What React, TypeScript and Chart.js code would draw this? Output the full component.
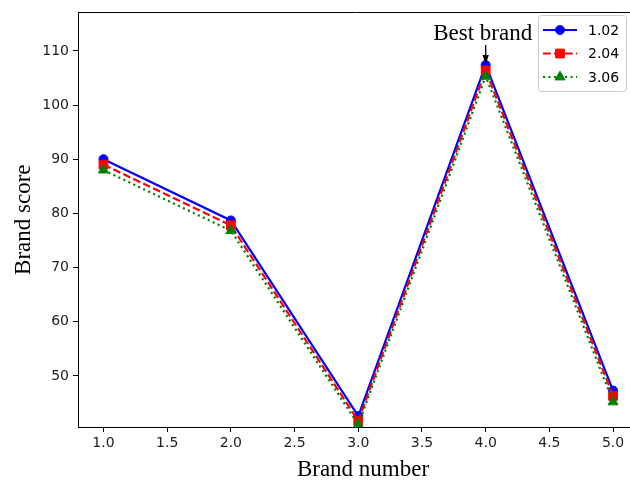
import { useEffect, useRef } from "react";
import { Chart, registerables } from "chart.js";

Chart.register(...registerables);

// ---- data ----
const brandNumbers = [1, 2, 3, 4, 5];
const series102 = [90.0, 78.7, 42.6, 107.4, 47.3];
const series204 = [89.0, 77.8, 41.7, 106.4, 46.3];
const series306 = [88.0, 76.8, 41.0, 105.3, 45.2];
const seriesLabels = ["1.02", "2.04", "3.06"];
const xTickValues = [1.0, 1.5, 2.0, 2.5, 3.0, 3.5, 4.0, 4.5, 5.0];
const yTickValues = [50, 60, 70, 80, 90, 100, 110];
const xAxisTitle = "Brand number";
const yAxisTitle = "Brand score";
const annotationText = "Best brand";
const bestBrandIndex = 3;

const colors = ["#0000ff", "#ff0000", "#008000"];
const dashes = [[], [7.7, 3.3], [2.1, 3.4]];
const pointStyles = ["circle", "rect", "triangle"];
const pointRadii = [4.5, 6.2, 5.8];

const SERIF = "'Liberation Serif', 'DejaVu Serif', serif";
const SANS = "'DejaVu Sans', sans-serif";

function drawMarker(ctx: CanvasRenderingContext2D, style: string, x: number, y: number, r: number, color: string) {
  ctx.save();
  ctx.fillStyle = color;
  ctx.strokeStyle = color;
  ctx.lineWidth = 1;
  ctx.setLineDash([]);
  ctx.beginPath();
  if (style === "circle") {
    ctx.arc(x, y, r, 0, Math.PI * 2);
  } else if (style === "rect") {
    const a = r * Math.SQRT1_2;
    ctx.rect(x - a, y - a, 2 * a, 2 * a);
  } else {
    ctx.moveTo(x, y - r);
    ctx.lineTo(x + r * 0.866, y + r * 0.5);
    ctx.lineTo(x - r * 0.866, y + r * 0.5);
    ctx.closePath();
  }
  ctx.fill();
  ctx.stroke();
  ctx.restore();
}

const decorPlugin = {
  id: "decor",
  afterDraw(chart: any) {
    const ctx: CanvasRenderingContext2D = chart.ctx;
    const area = chart.chartArea;
    const xs = chart.scales.x;
    const ys = chart.scales.y;
    ctx.save();
    // top spine
    ctx.strokeStyle = "#000";
    ctx.lineWidth = 1;
    ctx.beginPath();
    ctx.moveTo(area.left, Math.round(area.top) + 0.5);
    ctx.lineTo(area.right, Math.round(area.top) + 0.5);
    ctx.stroke();

    // axis titles
    ctx.fillStyle = "#000";
    ctx.font = `23px ${SERIF}`;
    ctx.textAlign = "center";
    ctx.textBaseline = "alphabetic";
    ctx.fillText(xAxisTitle, 363, 476);
    ctx.save();
    ctx.translate(30, (area.top + area.bottom) / 2);
    ctx.rotate(-Math.PI / 2);
    ctx.fillText(yAxisTitle, 0, 0);
    ctx.restore();

    // annotation
    const px = xs.getPixelForValue(brandNumbers[bestBrandIndex]);
    const py = ys.getPixelForValue(series102[bestBrandIndex]);
    ctx.font = `23px ${SERIF}`;
    ctx.textAlign = "center";
    ctx.fillText(annotationText, px - 3, 40);
    ctx.strokeStyle = "#000";
    ctx.fillStyle = "#000";
    ctx.lineWidth = 1.3;
    ctx.beginPath();
    ctx.moveTo(px, 45);
    ctx.lineTo(px, py - 2);
    ctx.stroke();
    ctx.beginPath();
    ctx.moveTo(px, py - 1);
    ctx.lineTo(px - 3.2, py - 10);
    ctx.lineTo(px + 3.2, py - 10);
    ctx.closePath();
    ctx.fill();

    // legend
    const lx = 538.5, ly = 15.5, lw = 88, lh = 76, rr = 3;
    ctx.beginPath();
    ctx.moveTo(lx + rr, ly);
    ctx.lineTo(lx + lw - rr, ly);
    ctx.quadraticCurveTo(lx + lw, ly, lx + lw, ly + rr);
    ctx.lineTo(lx + lw, ly + lh - rr);
    ctx.quadraticCurveTo(lx + lw, ly + lh, lx + lw - rr, ly + lh);
    ctx.lineTo(lx + rr, ly + lh);
    ctx.quadraticCurveTo(lx, ly + lh, lx, ly + lh - rr);
    ctx.lineTo(lx, ly + rr);
    ctx.quadraticCurveTo(lx, ly, lx + rr, ly);
    ctx.closePath();
    ctx.fillStyle = "rgba(255,255,255,0.8)";
    ctx.fill();
    ctx.strokeStyle = "#cccccc";
    ctx.lineWidth = 1;
    ctx.stroke();
    const rowsY = [30, 53.5, 77];
    seriesLabels.forEach((lab, i) => {
      const y = rowsY[i];
      ctx.strokeStyle = colors[i];
      ctx.lineWidth = 2;
      ctx.setLineDash(dashes[i]);
      ctx.beginPath();
      ctx.moveTo(543, y);
      ctx.lineTo(577, y);
      ctx.stroke();
      ctx.setLineDash([]);
      drawMarker(ctx, pointStyles[i], 560, y, pointRadii[i], colors[i]);
      ctx.fillStyle = "#000";
      ctx.font = `14px ${SANS}`;
      ctx.textAlign = "left";
      ctx.textBaseline = "middle";
      ctx.fillText(lab, 588, y + 1);
    });
    ctx.restore();
  },
};

export default function App() {
  const canvasRef = useRef<HTMLCanvasElement | null>(null);

  useEffect(() => {
    const canvas = canvasRef.current;
    if (!canvas) return;
    const allSeries = [series102, series204, series306];
    const chart = new Chart(canvas, {
      type: "line",
      data: {
        datasets: allSeries.map((s, i) => ({
          label: seriesLabels[i],
          data: brandNumbers.map((b, j) => ({ x: b, y: s[j] })),
          borderColor: colors[i],
          backgroundColor: colors[i],
          borderWidth: 2.2,
          borderDash: dashes[i],
          pointStyle: pointStyles[i] as any,
          pointRadius: pointRadii[i],
          pointBorderWidth: 1,
          pointBackgroundColor: colors[i],
          pointBorderColor: colors[i],
          tension: 0,
          fill: false,
          clip: 0,
          order: 3 - i,
        })),
      },
      options: {
        responsive: false,
        animation: false,
        devicePixelRatio: 1,
        layout: { padding: { top: 11, right: 2, left: 0, bottom: 0 } },
        plugins: {
          legend: { display: false },
          tooltip: { enabled: false },
        },
        scales: {
          x: {
            type: "linear",
            min: 0.8,
            max: 5.155,
            afterBuildTicks: (scale: any) => {
              scale.ticks = xTickValues.map((v) => ({ value: v }));
            },
            afterFit: (scale: any) => {
              scale.height = 55;
            },
            ticks: {
              callback: (v: any) => Number(v).toFixed(1),
              font: { family: SANS, size: 14 },
              color: "#222",
              padding: 3,
              maxRotation: 0,
              autoSkip: false,
            },
            grid: {
              display: true,
              drawOnChartArea: false,
              drawTicks: true,
              tickLength: 5,
              tickColor: "#000",
            },
            border: { display: true, color: "#000", width: 1 },
          },
          y: {
            type: "linear",
            min: 40.57,
            max: 117.1,
            afterBuildTicks: (scale: any) => {
              scale.ticks = yTickValues.map((v) => ({ value: v }));
            },
            afterFit: (scale: any) => {
              scale.width = 78;
            },
            ticks: {
              callback: (v: any) => String(v),
              font: { family: SANS, size: 14 },
              color: "#222",
              padding: 4,
              autoSkip: false,
            },
            grid: {
              display: true,
              drawOnChartArea: false,
              drawTicks: true,
              tickLength: 5,
              tickColor: "#000",
            },
            border: { display: true, color: "#000", width: 1 },
          },
        },
      },
      plugins: [decorPlugin],
    });
    return () => chart.destroy();
  }, []);

  return (
    <div style={{ position: "absolute", left: 0, top: 0, width: 630, height: 482, overflow: "hidden", background: "#fff" }}>
      <canvas ref={canvasRef} width={640} height={482} style={{ display: "block", width: 640, height: 482 }} />
    </div>
  );
}
